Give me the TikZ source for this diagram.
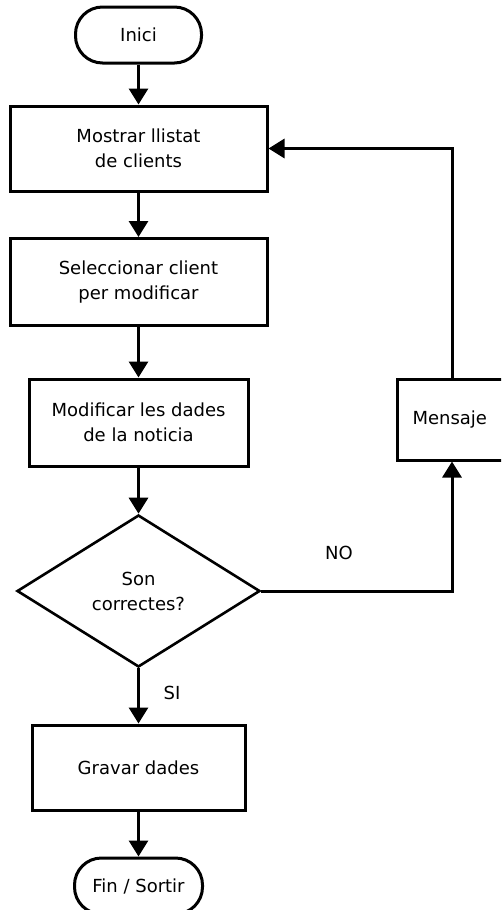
\documentclass[tikz,border=0pt]{standalone}
\usepackage{fontspec}
\setmainfont{DejaVu Sans}
\usetikzlibrary{shapes.geometric,arrows.meta}

\tikzset{
  caixa/.style={draw,line width=3pt,rectangle,align=center,inner sep=0pt},
  terminal/.style={draw,line width=3pt,rectangle,rounded corners=27pt,minimum width=126pt,minimum height=56pt,inner sep=0pt},
  decisio/.style={draw,line width=2.6pt,diamond,align=center,minimum width=243pt,minimum height=152pt,inner sep=0pt},
  fletxa/.style={line width=3pt,-{Triangle[width=19pt,length=16pt]}},
  etiqueta/.style={inner sep=0pt}
}

\begin{document}
\begin{tikzpicture}[x=1pt,y=-1pt,font=\fontsize{18}{25}\selectfont]
\useasboundingbox (0,0) rectangle (501,910);
\clip (0,0) rectangle (501,910);

\node[terminal] (inici) at (138.5,35) {Inici};
\node[caixa,minimum width=257pt,minimum height=85pt] (mostrar) at (138.5,148.5) {Mostrar llistat\\de clients};
\node[caixa,minimum width=257pt,minimum height=87pt] (selec) at (138.5,282) {Seleccionar client\\per modificar};
\node[caixa,minimum width=219pt,minimum height=87pt] (modif) at (138.5,422.5) {Modificar les dades\\de la noticia};
\node[caixa,minimum width=110pt,minimum height=81pt,text width=103pt,align=left] (mensaje) at (452,419.5) {\hspace{12pt}Mensaje};
\node[decisio] (correctes) at (138.5,591) {Son\\correctes?};
\node[caixa,minimum width=213pt,minimum height=85pt] (gravar) at (138.5,767.5) {Gravar dades};
\node[terminal,minimum width=128pt] (fi) at (138.5,886) {Fin / Sortir};

\node[etiqueta] (no) at (339,553) {NO};
\node[etiqueta] (si) at (172,693) {SI};

\draw[fletxa] (inici) -- (mostrar);
\draw[fletxa] (mostrar) -- (selec);
\draw[fletxa] (selec) -- (modif);
\draw[fletxa] (modif) -- (correctes);
\draw[fletxa] (correctes) -- (gravar);
\draw[fletxa] (gravar) -- (fi);
\draw[fletxa] (correctes.east) -| (mensaje.south);
\draw[fletxa] (mensaje.north) |- (mostrar.east);
\end{tikzpicture}
\end{document}
